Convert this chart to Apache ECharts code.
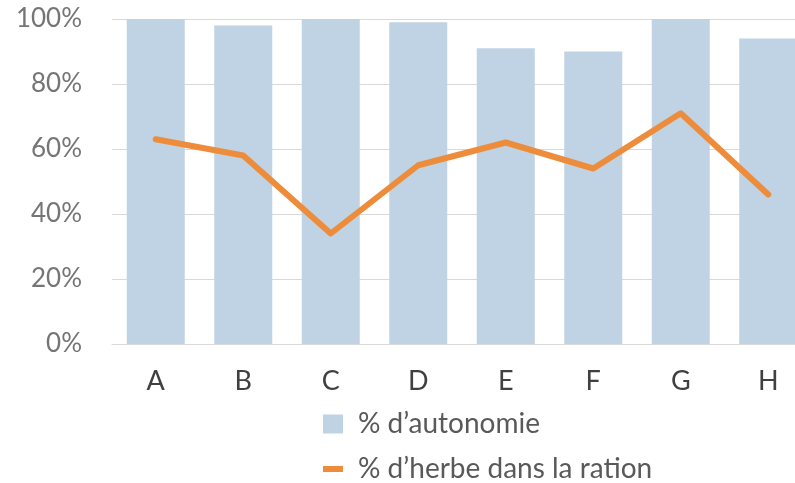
<!DOCTYPE html>
<html>
<head>
<meta charset="utf-8">
<script src="https://cdn.jsdelivr.net/npm/echarts@6/dist/echarts.min.js"></script>
<style>
    html,body{margin:0;padding:0;background:#fff;}
    #chart{width:795px;height:483px;}
</style>
</head>
<body>
<div id="chart"></div>
<script>
// catégories et valeurs
var categories = ['A', 'B', 'C', 'D', 'E', 'F', 'G', 'H'];
var autonomie = [100, 98, 100, 99, 91, 90, 100, 94];
var herbe = [63, 58, 34, 55, 62, 54, 71, 46];
var yTicks = [0, 20, 40, 60, 80, 100];

var nomBarre = '% d\u2019autonomie';
var nomLigne = '% d\u2019herbe dans la ration';

var myChart = echarts.init(document.getElementById('chart'));
var option = {
    animation: false,
    textStyle: { fontFamily: 'Lato' },
    grid: {
        left: 112,
        right: -17,
        top: 19,
        bottom: 139,
        containLabel: false,
        outerBoundsMode: 'none'
    },
    legend: [
        {
            data: [nomBarre],
            left: 323,
            top: 409,
            padding: 0,
            icon: 'rect',
            itemWidth: 20,
            itemHeight: 19,
            itemGap: 0,
            textStyle: { fontFamily: 'Lato', fontSize: 28, color: '#595959', padding: [0, 0, 0, 10], lineHeight: 30 }
        },
        {
            data: [nomLigne],
            left: 323,
            top: 454,
            padding: 0,
            icon: 'rect',
            itemWidth: 20,
            itemHeight: 6,
            itemGap: 0,
            textStyle: { fontFamily: 'Lato', fontSize: 28, color: '#595959', padding: [0, 0, 0, 10], lineHeight: 30 }
        }
    ],
    xAxis: {
        type: 'category',
        data: categories,
        axisLine: { lineStyle: { color: '#d9d9d9', width: 1 } },
        axisTick: { show: false },
        axisLabel: { fontFamily: 'Lato', fontSize: 27, color: '#404040', margin: 24 }
    },
    yAxis: {
        type: 'value',
        min: yTicks[0],
        max: yTicks[yTicks.length - 1],
        interval: 20,
        axisLine: { show: false },
        axisTick: { show: false },
        axisLabel: { fontFamily: 'Lato', fontSize: 26, color: '#757575', margin: 30, formatter: '{value}%' },
        splitLine: { lineStyle: { color: '#d9d9d9', width: 1 } }
    },
    series: [
        {
            name: nomBarre,
            type: 'bar',
            data: autonomie,
            barWidth: 58,
            itemStyle: { color: '#c0d3e4' }
        },
        {
            name: nomLigne,
            type: 'line',
            data: herbe,
            showSymbol: false,
            symbol: 'none',
            itemStyle: { color: '#ed8d3c' },
            lineStyle: { color: '#ed8d3c', width: 6, cap: 'round', join: 'round' }
        }
    ]
};
myChart.setOption(option);
</script>
</body>
</html>
